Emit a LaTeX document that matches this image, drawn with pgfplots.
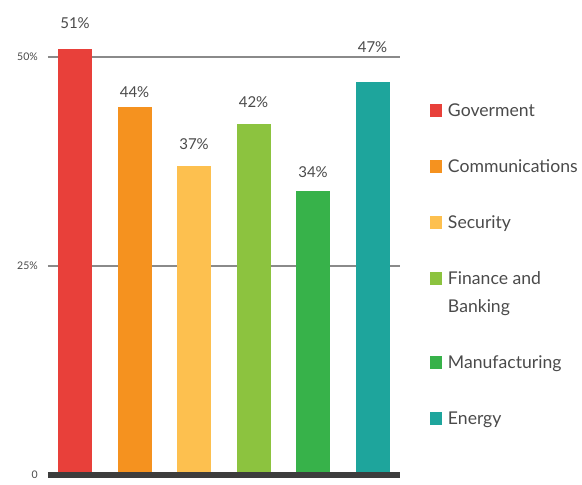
\documentclass[border=0pt]{standalone}
\usepackage{pgfplots}
\pgfplotsset{compat=1.18}
\usepackage{fontspec}
\setmainfont{Lato}
\definecolor{cRed}{HTML}{E8403A}
\definecolor{cOrange}{HTML}{F5921F}
\definecolor{cYellow}{HTML}{FDC04F}
\definecolor{cLGreen}{HTML}{8CC33F}
\definecolor{cGreen}{HTML}{37B24A}
\definecolor{cTeal}{HTML}{1EA59C}
\definecolor{cBase}{HTML}{3D3D3D}
\definecolor{cGrid}{HTML}{8A8A8A}
\definecolor{cText}{HTML}{4A4A4A}
\begin{document}
\begin{tikzpicture}
\useasboundingbox (0,0) rectangle (582pt,485pt);
\begin{axis}[
  at={(48pt,10pt)}, anchor=south west,
  scale only axis, width=352pt, height=459.8pt,
  xmin=-0.454, xmax=5.462, ymin=0, ymax=55,
  clip=false,
  axis line style={draw=none},
  xtick=\empty,
  ytick={0,25,50}, yticklabels={0,25\%,50\%},
  major tick length=0pt,
  yticklabel style={anchor=east, inner sep=0pt, xshift=-10pt, font=\fontsize{10.5}{12}\selectfont, text=cText},
  ymajorgrids, grid style={color=cGrid, line width=1.4pt},
  bar width=0.571,
  legend image code/.code={\fill[#1] (0pt,0pt) rectangle (12pt,13pt);},
  legend style={at={(rel axis cs:1.0852,0.8069)}, anchor=north west, draw=none, fill=none,
    inner sep=0pt, outer sep=0pt, row sep=43pt, column sep=6pt,
    font=\fontsize{17.6}{28}\selectfont, text=cText,
    nodes={inner sep=0pt, anchor=base west, text height=13pt, text depth=0pt}},
  legend cell align=left,
]
\addplot[ybar, bar shift=0pt, fill=cRed, draw=none] coordinates {(0,51)};
\addlegendentry{Goverment}
\addplot[ybar, bar shift=0pt, fill=cOrange, draw=none] coordinates {(1,44)};
\addlegendentry{Communications}
\addplot[ybar, bar shift=0pt, fill=cYellow, draw=none] coordinates {(2,37)};
\addlegendentry{Security}
\addplot[ybar, bar shift=0pt, fill=cLGreen, draw=none] coordinates {(3,42)};
\addlegendentry[text depth=28pt]{\vtop{\hbox{Finance and}\hbox{Banking}}}
\addplot[ybar, bar shift=0pt, fill=cGreen, draw=none] coordinates {(4,34)};
\addlegendentry{Manufacturing}
\addplot[ybar, bar shift=0pt, fill=cTeal, draw=none] coordinates {(5,47)};
\addlegendentry{Energy}
% value labels
\addplot[draw=none, mark=none, forget plot, point meta=explicit symbolic,
  nodes near coords, nodes near coords style={anchor=base, inner sep=0pt, font=\fontsize{15}{18}\selectfont, text=cText}]
  coordinates {(0,53.35)[51\%] (1,45.1)[44\%] (2,38.88)[37\%] (3,43.9)[42\%] (4,35.53)[34\%] (5,50.48)[47\%]};
% baseline
\addplot[forget plot, mark=none, line width=6.6pt, color=cBase] coordinates {(-0.454,0) (5.462,0)};
\end{axis}
\end{tikzpicture}
\end{document}
